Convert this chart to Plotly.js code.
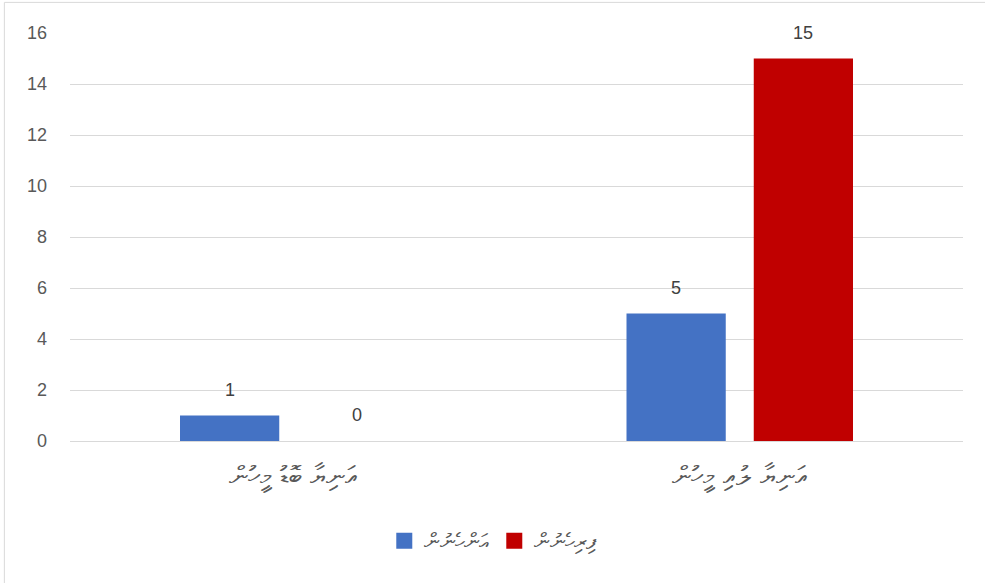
<!DOCTYPE html>
<html>
<head>
<meta charset="utf-8">
<script src="https://cdn.plot.ly/plotly-3.0.1.min.js"></script>
<style>html,body{margin:0;padding:0;background:#fff;}#chart{width:985px;height:583px;}</style>
</head>
<body>
<div id="chart"></div>
<script>
var categories = ["އަނިޔާ ބޮޑު މީހުން", "އަނިޔާ ލުއި މީހުން"];
var seriesNames = ["އަންހެނުން", "ފިރިހެނުން"];
var womenValues = [1, 5];
var menValues = [0, 15];
var yTicks = [0, 2, 4, 6, 8, 10, 12, 14, 16];

var thaanaFont = "DejaVu Sans, Noto Sans, sans-serif";
var numFont = {family: "Liberation Sans, Arial, sans-serif", size: 18, color: "#404040"};
var traces = [
  {type: "bar", name: seriesNames[0], x: categories, y: womenValues, marker: {color: "#4472C4"}},
  {type: "bar", name: seriesNames[1], x: categories, y: menValues, marker: {color: "#C00000"}}
];
var annotations = [];
[womenValues, menValues].forEach(function (vals, s) {
  vals.forEach(function (v, i) {
    annotations.push({x: categories[i], y: v, xref: "x", yref: "y", text: String(v),
      showarrow: false, yanchor: "bottom", yshift: 14, xshift: s === 0 ? -63.5 : 63.5, font: numFont});
  });
});
var layout = {
  width: 985, height: 583,
  margin: {l: 70, r: 22, t: 33, b: 142},
  paper_bgcolor: "#ffffff", plot_bgcolor: "#ffffff",
  barmode: "group", bargap: 0.43, bargroupgap: 0.22,
  showlegend: true,
  legend: {orientation: "h", x: 0.474, xanchor: "center", y: -0.245, yanchor: "middle",
           font: {family: thaanaFont, size: 22, color: "#595959"}, traceorder: "normal", itemwidth: 30},
  xaxis: {type: "category", showgrid: false, zeroline: false, showline: false, ticks: "",
          tickfont: {family: thaanaFont, size: 27, color: "#595959"}, ticklabelstandoff: 16, automargin: false},
  yaxis: {range: [0, 16], tickvals: yTicks, ticktext: yTicks.map(String), showgrid: true,
          gridcolor: "#d9d9d9", gridwidth: 1, zeroline: true, zerolinecolor: "#d9d9d9", showline: false,
          tickfont: {family: "Liberation Sans, Arial, sans-serif", size: 18, color: "#595959"},
          ticklabelstandoff: 22, automargin: false},
  annotations: annotations,
  shapes: [{type: "rect", xref: "paper", yref: "paper", x0: -0.0735, x1: 1.05, y0: -0.45, y1: 1.075,
            line: {color: "#d9d9d9", width: 1}}]
};
Plotly.newPlot("chart", traces, layout, {displayModeBar: false}).then(function (gd) {
  var paths = gd.querySelectorAll(".legend .legendpoints path");
  paths.forEach(function (p) { p.setAttribute("d", "M8,8H-8V-8H8Z"); });
});
</script>
</body>
</html>
